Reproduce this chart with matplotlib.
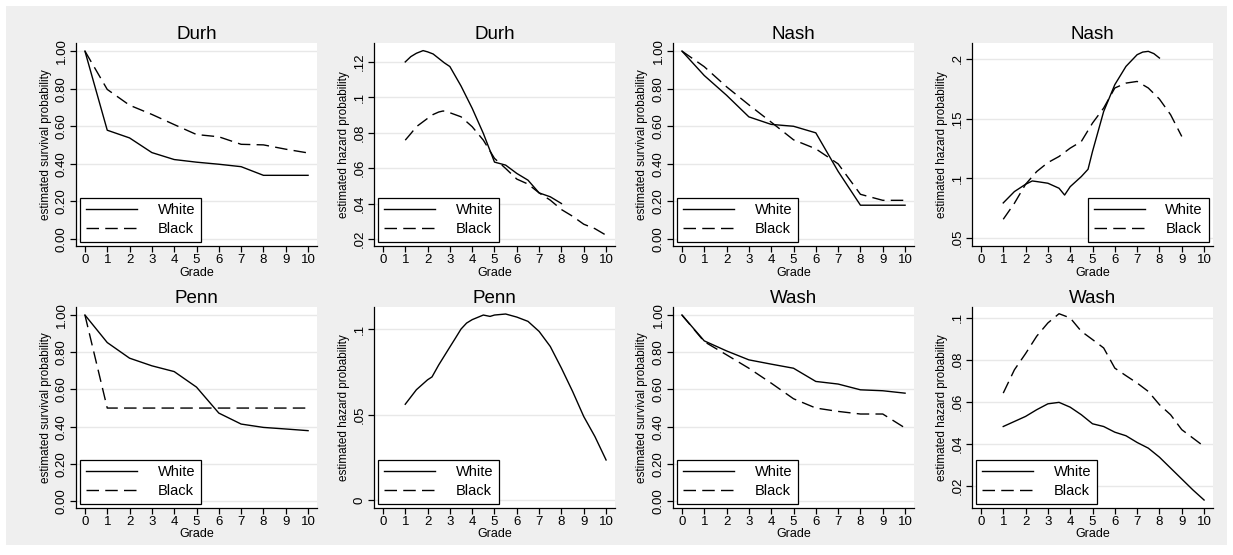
import matplotlib.pyplot as plt
from matplotlib.patches import Rectangle
import numpy as np

plt.rcParams['font.family'] = ['Liberation Sans', 'DejaVu Sans']

grades = np.arange(0, 11)

# survival estimates, by grade 0..10
surv = {
    'Durh': ([1.0, 0.579, 0.538, 0.46, 0.423, 0.409, 0.398, 0.385, 0.339, 0.339, 0.339],
             [1.0, 0.796, 0.712, 0.663, 0.609, 0.556, 0.544, 0.504, 0.501, 0.478, 0.458]),
    'Nash': ([1.0, 0.87, 0.765, 0.65, 0.61, 0.60, 0.565, 0.36, 0.18, 0.18, 0.18],
             [1.0, 0.917, 0.81, 0.714, 0.622, 0.528, 0.48, 0.40, 0.238, 0.206, 0.206]),
    'Penn': ([1.0, 0.852, 0.768, 0.727, 0.696, 0.6125, 0.473, 0.414, 0.396, 0.3875, 0.3786],
             [1.0, 0.5, 0.5, 0.5, 0.5, 0.5, 0.5, 0.5, 0.5, 0.5, 0.5]),
    'Wash': ([1.0, 0.861, 0.807, 0.759, 0.736, 0.714, 0.643, 0.629, 0.598, 0.593, 0.58],
             [1.0, 0.857, 0.786, 0.714, 0.634, 0.55, 0.50, 0.482, 0.468, 0.468, 0.393]),
}

# smoothed hazard estimates
durh_w_x = [1, 1.25, 1.5, 1.8, 2, 2.25, 2.5, 2.75, 3, 3.5, 4, 4.5, 5, 5.5, 6, 6.5, 7, 7.5, 8]
durh_w = [0.12, 0.123, 0.1249, 0.1264, 0.1257, 0.1245, 0.122, 0.1195, 0.1174, 0.1064, 0.0938,
          0.0796, 0.0634, 0.0617, 0.057, 0.0532, 0.046, 0.0438, 0.040]
durh_b_x = [1, 1.25, 1.5, 2, 2.25, 2.5, 2.7, 3, 3.5, 4, 4.5, 5, 5.5, 6, 6.5, 7, 7.5, 8, 8.5,
            9, 9.5, 10]
durh_b = [0.0758, 0.0795, 0.0834, 0.0881, 0.0903, 0.0917, 0.0923, 0.0913, 0.089, 0.0834,
          0.0758, 0.0655, 0.0598, 0.0538, 0.051, 0.046, 0.0419, 0.0366, 0.0328, 0.0283,
          0.0258, 0.0221]

nash_w_x = [1, 1.5, 2, 2.3, 2.5, 3, 3.5, 3.75, 4, 4.5, 4.8, 5, 5.5, 6, 6.5, 7, 7.25, 7.5, 7.75, 8]
nash_w = [0.0794, 0.0889, 0.095, 0.0978, 0.0973, 0.0959, 0.0917, 0.086, 0.093, 0.1015,
          0.1076, 0.1225, 0.156, 0.1785, 0.1938, 0.2036, 0.2058, 0.2064, 0.2045, 0.2008]
nash_b_x = [1, 1.5, 2, 2.5, 3, 3.5, 4, 4.5, 5, 5.5, 6, 6.5, 7, 7.5, 8, 8.5, 9]
nash_b = [0.0657, 0.0791, 0.095, 0.1057, 0.1132, 0.1183, 0.1253, 0.1309, 0.1463, 0.1589,
          0.1757, 0.1798, 0.1812, 0.1757, 0.1664, 0.1533, 0.1351]

penn_w_x = [1, 1.5, 2, 2.2, 2.5, 3, 3.25, 3.5, 3.75, 4, 4.5, 4.8, 5, 5.5, 6, 6.5, 7, 7.5, 8,
            8.5, 9, 9.5, 10]
penn_w = [0.056, 0.0645, 0.0703, 0.072, 0.079, 0.0895, 0.0947, 0.1, 0.1035, 0.1055, 0.1082,
          0.1074, 0.1082, 0.1088, 0.107, 0.1045, 0.0986, 0.0898, 0.0771, 0.0635, 0.0488,
          0.0371, 0.0234]

wash_x = [1, 1.5, 2, 2.5, 3, 3.5, 4, 4.5, 5, 5.5, 6, 6.5, 7, 7.5, 8, 8.5, 9, 9.5, 10]
wash_w = [0.0483, 0.0507, 0.0531, 0.0563, 0.0591, 0.0598, 0.0575, 0.0539, 0.0496, 0.0483,
          0.0456, 0.0439, 0.0407, 0.038, 0.0337, 0.0285, 0.0233, 0.0181, 0.0133]
wash_b = [0.0642, 0.0753, 0.083, 0.0913, 0.0976, 0.102, 0.1, 0.0936, 0.0897, 0.0857,
          0.0761, 0.0725, 0.069, 0.065, 0.0587, 0.0539, 0.0468, 0.0428, 0.0388]

surv_ticks = [0, 0.2, 0.4, 0.6, 0.8, 1.0]
surv_labels = ['0.00', '0.20', '0.40', '0.60', '0.80', '1.00']

W, H = 1233, 555
fig = plt.figure(figsize=(W / 100, H / 100), dpi=100, facecolor='white')
fig.patches.append(Rectangle((6 / W, 10 / H), 1221 / W, 539 / H, transform=fig.transFigure,
                             facecolor='#efefef', edgecolor='none', zorder=-10))

lefts = [76, 374, 673, 972]
dash = (0, (9, 4.5))


def make_ax(col, row):
    top, bot = (43, 246) if row == 0 else (307, 508)
    ax = fig.add_axes([lefts[col] / W, 1 - bot / H, 241 / W, (bot - top) / H])
    for s in ['top', 'right']:
        ax.spines[s].set_visible(False)
    ax.spines['left'].set_linewidth(0.9)
    ax.spines['bottom'].set_linewidth(0.9)
    ax.set_xlim(-0.4, 10.4)
    ax.set_xticks(grades)
    ax.tick_params(direction='out', length=4, width=0.9, labelsize=9.5, pad=2)
    ax.grid(axis='y', color='#e8e8e8', lw=1)
    ax.set_axisbelow(True)
    ax.set_xlabel('Grade', fontsize=9, labelpad=0.5 if row == 0 else 0)
    return ax


def finish(ax, title, ylabel, ticks, labels, ylim, loc='lower left'):
    ax.set_ylim(*ylim)
    ax.set_yticks(ticks)
    ax.set_yticklabels(labels, rotation=90, va='center')
    ax.set_ylabel(ylabel, fontsize=8.5, labelpad=3)
    ax.set_title(title, fontsize=13.5, pad=2)
    leg = ax.legend(loc=loc, fontsize=10.5, handlelength=3.5, handletextpad=1.4,
                    borderaxespad=0.3, fancybox=False, framealpha=1, borderpad=0.4,
                    labelspacing=0.3)
    leg.get_frame().set_edgecolor('black')
    leg.get_frame().set_linewidth(0.9)


def surv_panel(col, row, name):
    ax = make_ax(col, row)
    w, b = surv[name]
    ax.plot(grades, w, color='black', lw=1, label='White')
    ax.plot(grades, b, color='black', lw=1, ls=dash, label='Black')
    finish(ax, name, 'estimated survival probability', surv_ticks, surv_labels, (-0.037, 1.043))


def haz_panel(col, row, name, wx, wy, bx, by, ticks, labels, ylim, loc='lower left'):
    ax = make_ax(col, row)
    ax.plot(wx, wy, color='black', lw=1, label='White')
    ax.plot(bx, by, color='black', lw=1, ls=dash, label='Black')
    finish(ax, name, 'estimated hazard probability', ticks, labels, ylim, loc)


surv_panel(0, 0, 'Durh')
haz_panel(1, 0, 'Durh', durh_w_x, durh_w, durh_b_x, durh_b,
          [0.02, 0.04, 0.06, 0.08, 0.10, 0.12], ['.02', '.04', '.06', '.08', '.1', '.12'],
          (0.016, 0.1307))
surv_panel(2, 0, 'Nash')
haz_panel(3, 0, 'Nash', nash_w_x, nash_w, nash_b_x, nash_b,
          [0.05, 0.10, 0.15, 0.20], ['.05', '.1', '.15', '.2'], (0.0433, 0.2134),
          loc='lower right')
surv_panel(0, 1, 'Penn')
haz_panel(1, 1, 'Penn', penn_w_x, penn_w, [], [],
          [0, 0.05, 0.10], ['0', '.05', '.1'], (-0.0047, 0.1129))
surv_panel(2, 1, 'Wash')
haz_panel(3, 1, 'Wash', wash_x, wash_w, wash_x, wash_b,
          [0.02, 0.04, 0.06, 0.08, 0.10], ['.02', '.04', '.06', '.08', '.1'], (0.0095, 0.1052))

fig.savefig('out.png', dpi=100, facecolor=fig.get_facecolor())
